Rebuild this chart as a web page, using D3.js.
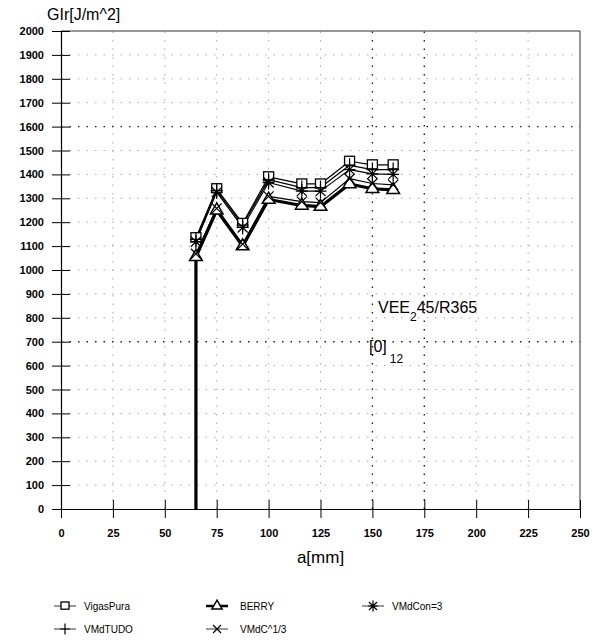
<!DOCTYPE html>
<html>
<head>
<meta charset="utf-8">
<style>
body { margin: 0; background: #fff; }
text { font-family: "Liberation Sans", Arial, sans-serif; fill: #000; }
</style>
<script src="https://d3js.org/d3.v7.min.js"></script>
</head>
<body>
<div id="chart"></div>
<script>
// x positions of the measurements (a in mm)
var aVals = [65, 75, 87.5, 100, 116, 125, 139, 150, 160];
// series values, GIr in J/m^2
var vigasPura = [1135, 1340, 1195, 1390, 1360, 1360, 1455, 1440, 1440];
var vmdTudo   = [1128, 1333, 1188, 1378, 1345, 1345, 1438, 1420, 1420];
var vmdCon3   = [1118, 1326, 1178, 1366, 1330, 1330, 1420, 1402, 1400];
var vmdC13    = [1068, 1258, 1108, 1308, 1286, 1282, 1382, 1362, 1356];
var berryA    = [65, 65, 75, 87.5, 100, 116, 125, 139, 150, 160];
var berry     = [0, 1055, 1250, 1100, 1295, 1270, 1265, 1360, 1340, 1335];

var xTicks = [0, 25, 50, 75, 100, 125, 150, 175, 200, 225, 250];
var yTicks = d3.range(0, 2001, 100);
var strongX = [150, 175];
var strongY = [700, 1600];

var W = 597, H = 644;
var margin = {left: 61, right: 17, top: 31, bottom: 135};

var svg = d3.select("#chart").append("svg")
    .attr("width", W).attr("height", H);

var x = d3.scaleLinear().domain([0, 250]).range([margin.left, W - margin.right]);
var y = d3.scaleLinear().domain([0, 2000]).range([H - margin.bottom, margin.top]);

// grid
svg.append("g").selectAll("line.gx")
    .data(xTicks.slice(1, -1))
    .enter().append("line")
    .attr("x1", d => x(d)).attr("x2", d => x(d))
    .attr("y1", y(0)).attr("y2", y(2000))
    .attr("stroke", d => strongX.indexOf(d) >= 0 ? "#222" : "#aaa")
    .attr("stroke-width", d => strongX.indexOf(d) >= 0 ? 1.4 : 1)
    .attr("stroke-dasharray", "1.5,7");

svg.append("g").selectAll("line.gy")
    .data(yTicks.slice(1, -1))
    .enter().append("line")
    .attr("x1", x(0)).attr("x2", x(250))
    .attr("y1", d => y(d)).attr("y2", d => y(d))
    .attr("stroke", d => strongY.indexOf(d) >= 0 ? "#222" : "#aaa")
    .attr("stroke-width", d => strongY.indexOf(d) >= 0 ? 1.4 : 1)
    .attr("stroke-dasharray", "1.5,7");

// frame (top and right)
svg.append("path")
    .attr("d", "M" + x(0) + "," + y(2000) + "H" + x(250) + "V" + y(0))
    .attr("fill", "none").attr("stroke", "#333").attr("stroke-width", 1);

// axes
var yAxis = svg.append("g")
    .attr("transform", "translate(" + x(0) + ",0)")
    .call(d3.axisLeft(y).tickValues(yTicks).tickSize(0).tickPadding(17).tickFormat(d3.format("d")));
yAxis.select(".domain").attr("stroke", "#000").attr("stroke-width", 1.2);
yAxis.selectAll("text").attr("font-size", "11px").attr("font-weight", "bold")
    .style("font-family", "'Liberation Sans', Arial, sans-serif");
yAxis.selectAll(".tick").append("line")
    .attr("x1", -9).attr("x2", 9).attr("stroke", "#000").attr("stroke-width", 1);

var xAxis = svg.append("g")
    .attr("transform", "translate(0," + y(0) + ")")
    .call(d3.axisBottom(x).tickValues(xTicks).tickSize(0).tickPadding(20));
xAxis.select(".domain").attr("stroke", "#000").attr("stroke-width", 1.2);
xAxis.selectAll("text").attr("font-size", "11px").attr("font-weight", "bold")
    .style("font-family", "'Liberation Sans', Arial, sans-serif");
xAxis.selectAll(".tick").append("line")
    .attr("y1", -9).attr("y2", 9).attr("stroke", "#000").attr("stroke-width", 1);

// axis titles
svg.append("text").attr("x", 47).attr("y", 20)
    .attr("font-size", "16px").text("GIr[J/m^2]");
svg.append("text").attr("x", x(125)).attr("y", 563)
    .attr("text-anchor", "middle").attr("font-size", "17px").text("a[mm]");

// annotations
var ann1 = svg.append("text").attr("x", 378).attr("y", 313).attr("font-size", "16px").attr("fill", "#000");
ann1.append("tspan").text("VEE");
ann1.append("tspan").attr("dy", 8).attr("font-size", "12px").text("2");
ann1.append("tspan").attr("dy", -8).text("45/R365");
var ann2 = svg.append("text").attr("x", 369).attr("y", 352).attr("font-size", "16px").attr("fill", "#000");
ann2.append("tspan").text("[0]");
ann2.append("tspan").attr("dx", 3).attr("dy", 11).attr("font-size", "12px").text("12");

// markers
function drawMarker(g, type, cx, cy, k) {
    k = k || 1;
    if (type === "square") {
        g.append("rect").attr("x", cx - 5 * k).attr("y", cy - 5 * k).attr("width", 10 * k).attr("height", 9 * k)
            .attr("fill", "#fff").attr("stroke", "#000").attr("stroke-width", 1.3);
    } else if (type === "triangle") {
        g.append("path").attr("d", d3.symbol().type(d3.symbolTriangle).size(70 * k * k)())
            .attr("transform", "translate(" + cx + "," + cy + ")")
            .attr("fill", "#fff").attr("stroke", "#000").attr("stroke-width", 1.5);
    } else if (type === "plus") {
        g.append("path").attr("d", "M" + (cx - 6 * k) + "," + cy + "h" + 12 * k + "M" + cx + "," + (cy - 7 * k) + "v" + 14 * k)
            .attr("stroke", "#000").attr("stroke-width", 1.2);
    } else if (type === "x") {
        g.append("path").attr("d", "M" + (cx - 5 * k) + "," + (cy - 5 * k) + "l" + 10 * k + "," + 10 * k + "M" + (cx - 5 * k) + "," + (cy + 5 * k) + "l" + 10 * k + "," + (-10 * k))
            .attr("stroke", "#000").attr("stroke-width", 1.2);
    } else if (type === "star") {
        g.append("path").attr("d", "M" + (cx - 5 * k) + "," + (cy - 5 * k) + "l" + 10 * k + "," + 10 * k + "M" + (cx - 5 * k) + "," + (cy + 5 * k) + "l" + 10 * k + "," + (-10 * k) + "M" + cx + "," + (cy - 7 * k) + "v" + 14 * k + "M" + (cx - 6 * k) + "," + cy + "h" + 12 * k)
            .attr("stroke", "#000").attr("stroke-width", 1.2);
    }
}

var series = [
    {name: "VigasPura", xs: aVals, ys: vigasPura, marker: "square", width: 1.2},
    {name: "VMdTUDO", xs: aVals, ys: vmdTudo, marker: "plus", width: 1.2},
    {name: "BERRY", xs: berryA, ys: berry, marker: "triangle", width: 3.2},
    {name: "VMdC^1/3", xs: aVals, ys: vmdC13, marker: "x", width: 1.2},
    {name: "VMdCon=3", xs: aVals, ys: vmdCon3, marker: "star", width: 1.2}
];

var line = d3.line().x(d => x(d[0])).y(d => y(d[1]));

series.forEach(function(s) {
    var pts = s.xs.map((v, i) => [v, s.ys[i]]);
    svg.append("path").datum(pts).attr("d", line)
        .attr("fill", "none").attr("stroke", "#000").attr("stroke-width", s.width)
        .attr("stroke-linejoin", "round");
});
series.forEach(function(s) {
    var g = svg.append("g");
    s.xs.forEach(function(v, i) {
        if (s.ys[i] > 0) drawMarker(g, s.marker, x(v), y(s.ys[i]));
    });
});

// legend
var legendPos = [
    {sx: 54, tx: 84, ty: 610},
    {sx: 54, tx: 84, ty: 633},
    {sx: 206, tx: 240, ty: 610},
    {sx: 206, tx: 240, ty: 633},
    {sx: 362, tx: 392, ty: 610}
];
series.forEach(function(s, i) {
    var p = legendPos[i];
    var g = svg.append("g");
    g.append("line").attr("x1", p.sx).attr("x2", p.sx + 22)
        .attr("y1", p.ty - 4).attr("y2", p.ty - 4)
        .attr("stroke", "#000").attr("stroke-width", s.width === 1.2 ? 0.8 : 2.5);
    drawMarker(g, s.marker, p.sx + 11, p.ty - 4, 0.8);
    g.append("text").attr("x", p.tx).attr("y", p.ty).attr("font-size", "10px").text(s.name);
});
</script>
</body>
</html>
